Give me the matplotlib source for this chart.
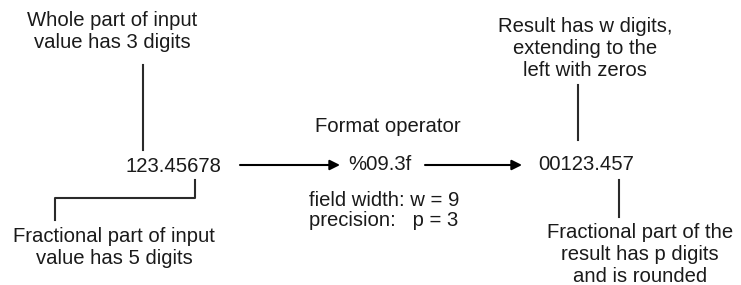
import matplotlib.pyplot as plt

plt.rcParams['font.family'] = ['Liberation Sans', 'DejaVu Sans']

# Texts of the diagram
input_value = "123.45678"
format_op = "%09.3f"
result_value = "00123.457"
op_title = "Format operator"
op_params = ["field width: w = 9", "precision:   p = 3"]
note_whole = ["Whole part of input", "value has 3 digits"]
note_frac_in = ["Fractional part of input", "value has 5 digits"]
note_width = ["Result has w digits,", "extending to the", "left with zeros"]
note_frac_out = ["Fractional part of the", "result has p digits", "and is rounded"]

fig = plt.figure(figsize=(7.41, 2.85), dpi=100)
ax = fig.add_axes([0, 0, 1, 1])
ax.set_xlim(0, 741)
ax.set_ylim(285, 0)
ax.axis('off')

fs = 14.6
tc = '#1a1a1a'
lc = '#2a2a2a'


def block(lines, x, y0, dy=22):
    for i, s in enumerate(lines):
        ax.text(x, y0 + i * dy, s, ha='center', va='center', fontsize=fs, color=tc)


# main row
ax.text(173, 166, input_value, ha='center', va='center', fontsize=fs, color=tc)
ax.text(380, 165, format_op, ha='center', va='center', fontsize=fs, color=tc)
ax.text(586, 165, result_value, ha='center', va='center', fontsize=fs, color=tc)

arrow = dict(arrowstyle='-|>', color='black', lw=1.5, mutation_scale=15, shrinkA=0, shrinkB=0)
ax.annotate('', xy=(340, 165), xytext=(240, 165), arrowprops=arrow)
ax.annotate('', xy=(522, 165), xytext=(425, 165), arrowprops=arrow)

# operator description
ax.text(388, 127, op_title, ha='center', va='center', fontsize=fs, color=tc)
for i, s in enumerate(op_params):
    ax.text(309, 200 + i * 20, s, ha='left', va='center', fontsize=fs, color=tc)

# notes
block(note_whole, 112, 21)
block(note_frac_in, 114, 237, 21)
block(note_width, 585, 27, 21.5)
block(note_frac_out, 640, 233, 22)

# connector lines
ax.plot([143, 143], [65, 150], color=lc, lw=1.5)
ax.plot([195, 195, 55, 55], [180, 198, 198, 220], color=lc, lw=1.5)
ax.plot([578, 578], [85, 140], color=lc, lw=1.5)
ax.plot([619, 619], [180, 217], color=lc, lw=1.5)

fig.savefig('out.png', dpi=100)
